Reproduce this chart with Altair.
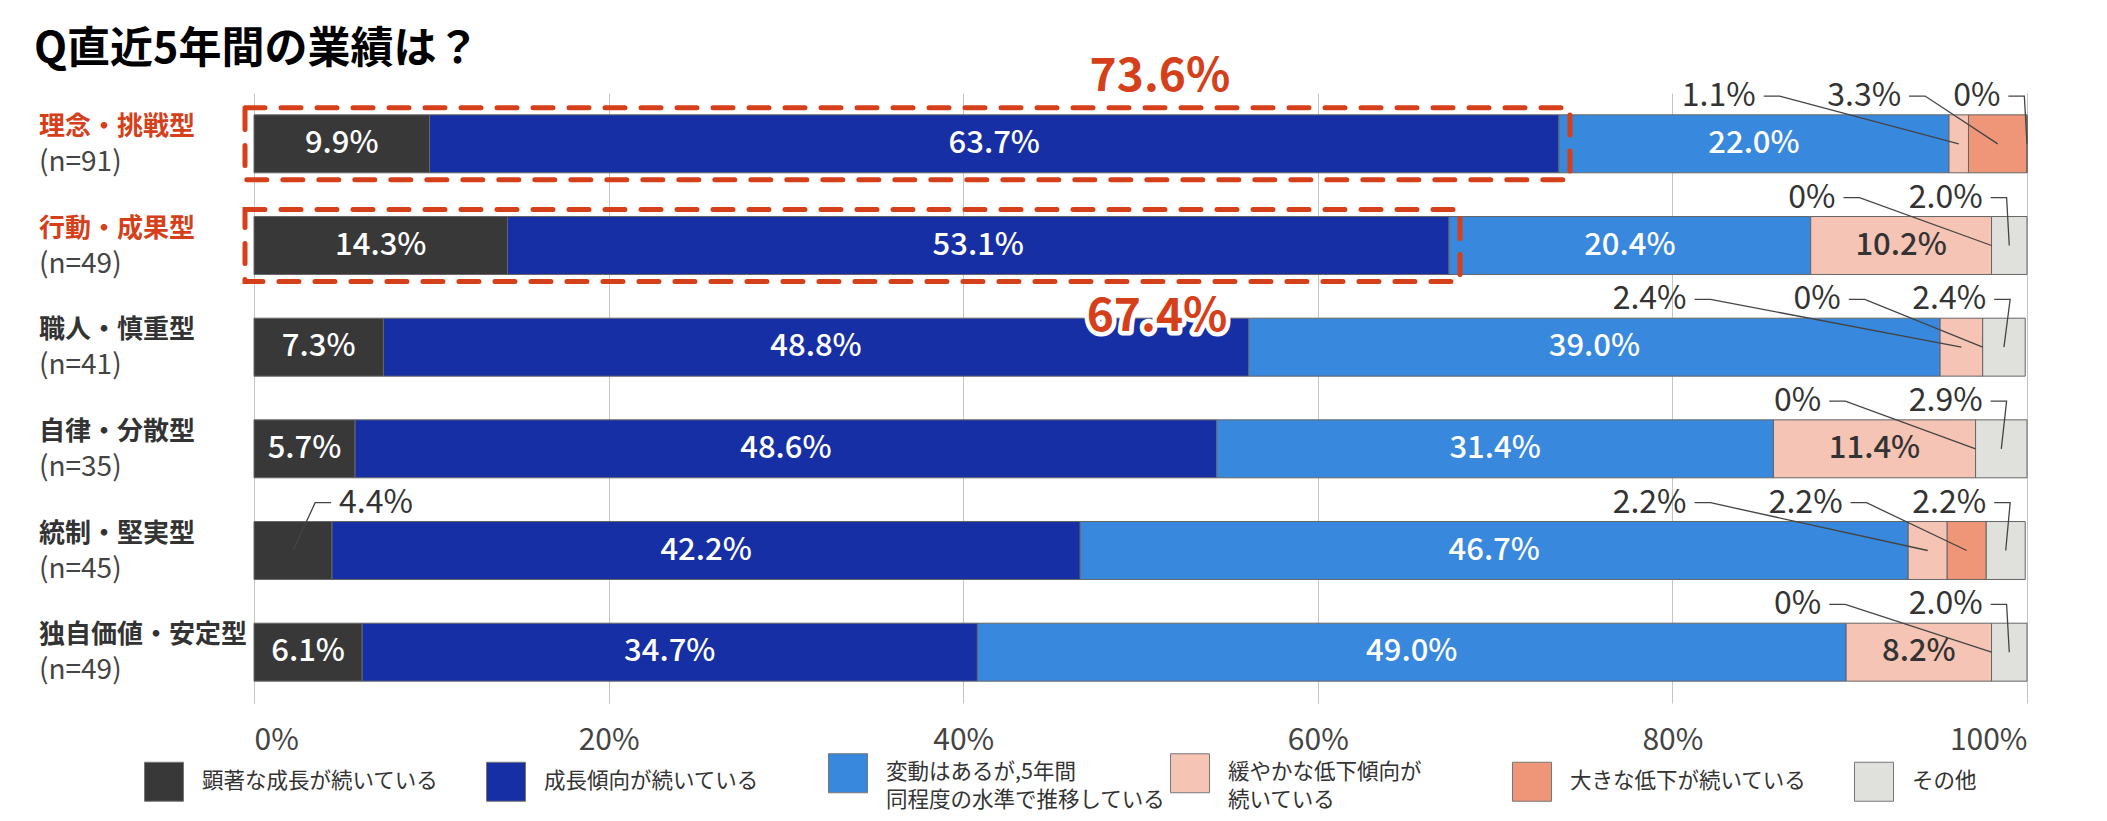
import altair as alt
import pandas as pd

FONT = "Noto Sans CJK JP"
RED = "#d5401a"

# ---------------- data ----------------
types = ["理念・挑戦型", "行動・成果型", "職人・慎重型", "自律・分散型", "統制・堅実型", "独自価値・安定型"]
n_counts = [91, 49, 41, 35, 45, 49]
highlighted_rows = [0, 1]

series = [
    "顕著な成長が続いている",
    "成長傾向が続いている",
    "変動はあるが,5年間\n同程度の水準で推移している",
    "緩やかな低下傾向が\n続いている",
    "大きな低下が続いている",
    "その他",
]
colors = ["#383838", "#172fa5", "#3888dd", "#f5c4b4", "#ee9677", "#e0e0dc"]

v_kencho = [9.9, 14.3, 7.3, 5.7, 4.4, 6.1]
v_seicho = [63.7, 53.1, 48.8, 48.6, 42.2, 34.7]
v_hendo = [22.0, 20.4, 39.0, 31.4, 46.7, 49.0]
v_yuruyaka = [1.1, 10.2, 2.4, 11.4, 2.2, 8.2]
v_ookina = [3.3, 0.0, 0.0, 0.0, 2.2, 0.0]
v_sonota = [0.0, 2.0, 2.4, 2.9, 2.2, 2.0]

# callouts for small segments: (row, series index, label anchor on x axis in %, side)
callouts = [
    (0, 3, 84.7, "R"), (0, 4, 92.9, "R"), (0, 5, 98.5, "R"),
    (1, 4, 89.2, "R"), (1, 5, 97.5, "R"),
    (2, 3, 80.8, "R"), (2, 4, 89.5, "R"), (2, 5, 97.7, "R"),
    (3, 4, 88.4, "R"), (3, 5, 97.5, "R"),
    (4, 0, 4.8, "L"), (4, 3, 80.8, "R"), (4, 4, 89.6, "R"), (4, 5, 97.7, "R"),
    (5, 4, 88.4, "R"), (5, 5, 97.5, "R"),
]

# ---------------- layout constants ----------------
BAR_HALF = 0.285      # half bar thickness in row units
CALLOUT_DY = 0.47     # callout label height above bar centre (row units)
GAP = 0.45            # gap between label and leader line (% units)
ELBOW = 0.9           # horizontal part of leader line (% units)


def fmt(v):
    return "0%" if v == 0 else f"{v:.1f}%"


all_vals = [v_kencho, v_seicho, v_hendo, v_yuruyaka, v_ookina, v_sonota]
recs = []
for i, t in enumerate(types):
    cum = 0.0
    for j in range(len(series)):
        v = all_vals[j][i]
        recs.append(dict(row=i, type=t, series=series[j], sidx=j, value=v,
                         start=cum, end=cum + v, mid=cum + v / 2, label=fmt(v),
                         y0=i - BAR_HALF, y1=i + BAR_HALF))
        cum += v
df = pd.DataFrame(recs)

rowlab = pd.DataFrame(dict(row=list(range(len(types))), type=types,
                           n=[f"(n={k})" for k in n_counts],
                           hl=[i in highlighted_rows for i in range(len(types))]))

# callout text + leader lines
ct, cl = [], []
for k, (r, s, ax, side) in enumerate(callouts):
    seg = df[(df.row == r) & (df.sidx == s)].iloc[0]
    ly = r - CALLOUT_DY
    ct.append(dict(id=k, x=ax, y=ly, label=seg.label, side=side))
    sgn = 1 if side == "R" else -1
    p1 = ax + sgn * GAP
    p2 = p1 + sgn * ELBOW
    cl += [dict(id=k, o=0, x=p1, y=ly), dict(id=k, o=1, x=p2, y=ly),
           dict(id=k, o=2, x=seg.mid, y=r)]
ct = pd.DataFrame(ct)
cl = pd.DataFrame(cl)

hl = pd.DataFrame([dict(row=r, zero=0.0, total=v_kencho[r] + v_seicho[r],
                        label=f"{v_kencho[r] + v_seicho[r]:.1f}%",
                        y0=r - BAR_HALF, y1=r + BAR_HALF) for r in highlighted_rows])

# ---------------- scales ----------------
xs = alt.Scale(domain=[0, 100], nice=False)
ys = alt.Scale(domain=[-0.5, 5.5], reverse=True, nice=False, zero=False)


def X(f):
    return alt.X(f, scale=xs, title=None)


def Y(f):
    return alt.Y(f, scale=ys, axis=None)


bars = alt.Chart(df).mark_rect(stroke="#666666", strokeWidth=1).encode(
    x=alt.X("start:Q", scale=xs, title=None, axis=alt.Axis(
        values=[0, 20, 40, 60, 80, 100], labelExpr="datum.value + '%'",
        grid=True, gridColor="#c4c4c4", gridWidth=1, domain=False, ticks=False,
        labelPadding=22, labelFontSize=30, labelColor="#444", labelFont=FONT, title=None)),
    x2="end:Q",
    y=Y("y0:Q"),
    y2="y1:Q",
    color=alt.Color("series:N", sort=series,
                    scale=alt.Scale(domain=series, range=colors),
                    legend=alt.Legend(
                        title=None, orient="none", legendX=-110, legendY=660,
                        direction="horizontal", columns=6, gridAlign="all",
                        symbolType="square", symbolSize=1521, symbolStrokeColor="#777",
                        symbolStrokeWidth=1, labelFont=FONT, labelFontSize=21.5,
                        labelColor="#333", labelOffset=18, labelLimit=400,
                        columnPadding=2, labelExpr="split(datum.label, '\\n')")),
)

inside = alt.Chart(df).transform_filter("datum.value >= 5").mark_text(
    font=FONT, fontSize=31, fontWeight=500, baseline="middle", align="center"
).encode(
    x=X("mid:Q"),
    y=Y("row:Q"),
    text="label:N",
    color=alt.condition("datum.sidx < 3", alt.value("white"), alt.value("#333333")),
)

lines = alt.Chart(cl).mark_line(color="#444444", strokeWidth=1.3).encode(
    x=X("x:Q"), y=Y("y:Q"), detail="id:N", order="o:Q",
)

ctext_r = alt.Chart(ct).transform_filter("datum.side == 'R'").mark_text(
    font=FONT, fontSize=32, align="right", baseline="middle", color="#333333"
).encode(x=X("x:Q"), y=Y("y:Q"), text="label:N")

ctext_l = alt.Chart(ct).transform_filter("datum.side == 'L'").mark_text(
    font=FONT, fontSize=32, align="left", baseline="middle", color="#333333"
).encode(x=X("x:Q"), y=Y("y:Q"), text="label:N")

boxes = alt.Chart(hl).mark_rect(
    fill="transparent", stroke=RED, strokeWidth=5, strokeDash=[20, 16], strokeCap="round",
    xOffset=-9, x2Offset=11, yOffset=-7, y2Offset=7
).encode(x=X("zero:Q"), x2="total:Q", y=Y("y0:Q"), y2="y1:Q")

hl0 = alt.Chart(hl).transform_filter("datum.row == 0").mark_text(
    font=FONT, fontSize=46, fontWeight="bold", color=RED, align="center",
    baseline="middle", dx=-399, dy=-67
).encode(x=X("total:Q"), y=Y("row:Q"), text="label:N")

hl1_halo = alt.Chart(hl).transform_filter("datum.row == 1").mark_text(
    font=FONT, fontSize=46, fontWeight="bold", color="white", stroke="white",
    strokeWidth=9, strokeJoin="round", align="center", baseline="middle", dx=-292, dy=71
).encode(x=X("total:Q"), y=Y("row:Q"), text="label:N")

hl1 = alt.Chart(hl).transform_filter("datum.row == 1").mark_text(
    font=FONT, fontSize=46, fontWeight="bold", color=RED, align="center",
    baseline="middle", dx=-292, dy=71
).encode(x=X("total:Q"), y=Y("row:Q"), text="label:N")

name_lab = alt.Chart(rowlab).mark_text(
    font=FONT, fontSize=26, fontWeight="bold", align="left", baseline="middle", dy=-17
).encode(
    x=alt.value(-215),
    y=Y("row:Q"),
    text="type:N",
    color=alt.condition("datum.hl", alt.value(RED), alt.value("#333333")),
)

n_lab = alt.Chart(rowlab).mark_text(
    font=FONT, fontSize=28, align="left", baseline="middle", dy=19, color="#444444"
).encode(x=alt.value(-215), y=Y("row:Q"), text="n:N")

chart = alt.layer(
    bars, inside, lines, ctext_r, ctext_l, boxes, hl0, hl1_halo, hl1, name_lab, n_lab
).properties(
    width=1773, height=610,
    title=alt.Title("Q直近5年間の業績は？", anchor="start", frame="group", dx=-220, dy=18,
                    font=FONT, fontSize=43, fontWeight="bold", color="#000000", offset=0),
    padding={"left": 246, "top": 85, "right": 72, "bottom": 110},
    autosize=alt.AutoSizeParams(type="none"),
).configure(
    background="white", style={"guide-label": {"lineHeight": 28}}
).configure_view(stroke=None)

chart.save("out.html", embed_options={"renderer": "svg", "actions": False})
